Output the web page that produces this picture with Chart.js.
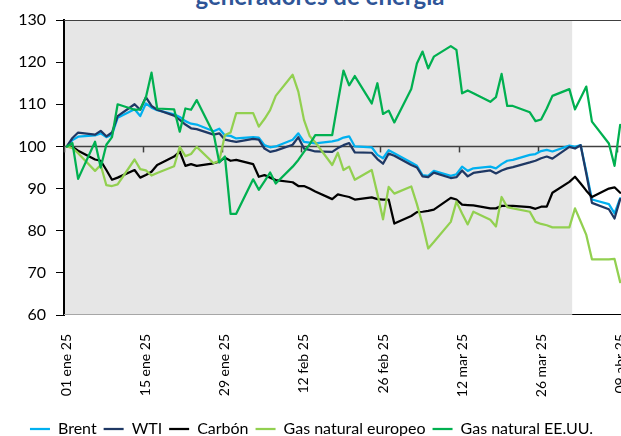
<!DOCTYPE html>
<html lang="es">
<head>
<meta charset="utf-8">
<title>Precios de la energía</title>
<script src="https://cdn.jsdelivr.net/npm/chart.js@4.4.1/dist/chart.umd.min.js"></script>
<style>
    html, body { margin: 0; padding: 0; background: #fff; overflow: hidden; }
    body { width: 621px; height: 436px; position: relative; }
    #titulo {
        position: absolute; left: 0; top: -16px; width: 640px;
        text-align: center; white-space: nowrap;
        font: bold 24px Lato, sans-serif; line-height: 24px; color: #2f5597;
    }
    #grafico { position: absolute; left: 0; top: 0; }
</style>
</head>
<body>
<div id="titulo">generadores de energía</div>
<canvas id="grafico" width="640" height="447"></canvas>
<script>
// Días hábiles (una fila por semana)
const fechas = [
    '2025-01-01', '2025-01-02', '2025-01-03',
    '2025-01-06', '2025-01-07', '2025-01-08', '2025-01-09', '2025-01-10',
    '2025-01-13', '2025-01-14', '2025-01-15', '2025-01-16', '2025-01-17',
    '2025-01-20', '2025-01-21', '2025-01-22', '2025-01-23', '2025-01-24',
    '2025-01-27', '2025-01-28', '2025-01-29', '2025-01-30', '2025-01-31',
    '2025-02-03', '2025-02-04', '2025-02-05', '2025-02-06', '2025-02-07',
    '2025-02-10', '2025-02-11', '2025-02-12', '2025-02-13', '2025-02-14',
    '2025-02-17', '2025-02-18', '2025-02-19', '2025-02-20', '2025-02-21',
    '2025-02-24', '2025-02-25', '2025-02-26', '2025-02-27', '2025-02-28',
    '2025-03-03', '2025-03-04', '2025-03-05', '2025-03-06', '2025-03-07',
    '2025-03-10', '2025-03-11', '2025-03-12', '2025-03-13', '2025-03-14',
    '2025-03-17', '2025-03-18', '2025-03-19', '2025-03-20', '2025-03-21',
    '2025-03-24', '2025-03-25', '2025-03-26', '2025-03-27', '2025-03-28',
    '2025-03-31', '2025-04-01', '2025-04-02', '2025-04-03', '2025-04-04',
    '2025-04-07', '2025-04-08', '2025-04-09'
];

// Índices base 100 = 01 ene 25
const brent = [
    100.0, 101.5, 102.3,
    102.6, 103.1, 102.2, 102.8, 106.8,
    108.8, 107.2, 110.2, 109.2, 108.6,
    107.6, 107.0, 106.0, 105.4, 105.2,
    103.6, 104.2, 102.6, 102.5, 101.9,
    102.2, 102.1, 100.3, 99.8, 100.0,
    101.6, 103.1, 101.1, 100.9, 100.7,
    101.2, 101.5, 102.1, 102.4, 100.0,
    99.8, 98.0, 97.2, 99.1, 98.4,
    96.2, 95.4, 93.2, 93.0, 94.2,
    93.0, 93.4, 95.2, 94.2, 94.8,
    95.2, 94.8, 95.8, 96.6, 96.8,
    98.0, 98.2, 98.9, 99.2, 98.8,
    100.2, 99.9, 100.3, 94.0, 87.4,
    86.3, 84.1, 87.7
];
const wti = [
    100.0, 102.0, 103.3,
    102.8, 103.7, 102.4, 103.3, 107.2,
    110.0, 108.7, 111.7, 109.6, 108.7,
    107.3, 106.3, 105.2, 104.3, 104.1,
    102.8, 103.1, 101.6, 101.3, 101.1,
    101.8, 101.6, 99.5, 98.7, 99.0,
    100.4, 102.2, 99.5, 99.2, 98.8,
    98.7, 99.6, 100.3, 100.8, 98.6,
    98.5, 97.0, 95.9, 98.3, 97.8,
    95.6, 95.0, 92.9, 92.7, 93.8,
    92.5, 92.7, 94.3, 92.9, 93.7,
    94.3, 93.6, 94.3, 94.8, 95.1,
    96.2, 96.6, 97.2, 97.6, 97.1,
    99.9, 99.5, 100.3, 93.5, 86.6,
    85.1, 82.9, 87.5
];
const carbon = [
    100.0, 99.9, 99.0,
    96.9, 96.6, 94.4, 92.1, 92.6,
    94.4, 92.6, 93.2, 94.0, 95.6,
    97.6, 98.8, 95.4, 95.8, 95.4,
    96.0, 96.4, 97.3, 96.6, 96.8,
    95.8, 92.8, 93.2, 92.6, 92.0,
    91.5, 90.6, 90.6, 90.0, 89.3,
    87.5, 88.6, 88.3, 88.0, 87.4,
    87.9, 87.5, 87.4, 87.4, 81.7,
    83.5, 84.4, 84.5, 84.7, 85.0,
    87.8, 87.4, 86.2, 86.1, 86.0,
    85.3, 85.3, 85.9, 85.9, 85.9,
    85.6, 85.2, 85.7, 85.7, 89.0,
    91.6, 92.8, 91.2, 89.5, 88.0,
    90.0, 90.3, 89.0
];
const gasEuropeo = [
    100.0, 99.6, 98.4,
    94.2, 95.6, 90.8, 90.6, 91.0,
    96.9, 94.6, 94.3, 93.1, 93.7,
    95.3, 99.9, 97.7, 98.2, 99.9,
    96.0, 96.6, 102.7, 103.3, 107.9,
    107.9, 104.7, 106.5, 108.6, 112.0,
    117.0, 113.0, 106.3, 102.5, 101.0,
    95.6, 98.5, 94.4, 95.2, 92.1,
    94.4, 88.8, 82.7, 90.4, 88.8,
    90.5, 86.3, 81.5, 75.8, 77.3,
    82.1, 86.9, 84.1, 81.5, 84.5,
    82.6, 81.0, 88.0, 85.6, 85.3,
    84.5, 82.1, 81.6, 81.3, 80.8,
    80.8, 85.3, 82.2, 79.0, 73.2,
    73.2, 73.3, 67.8
];
const gasEEUU = [
    100.0, 100.8, 92.3,
    101.1, 95.0, 100.4, 102.2, 110.0,
    108.7, 108.8, 111.6, 117.5, 109.0,
    108.8, 103.5, 109.0, 108.7, 111.0,
    103.0, 96.2, 97.6, 84.0, 84.0,
    92.2, 89.7, 91.7, 93.8, 91.2,
    95.2, 96.8, 98.7, 100.5, 102.7,
    102.7, 110.5, 118.0, 114.5, 116.7,
    110.2, 115.0, 107.7, 108.5, 105.7,
    113.6, 119.7, 122.5, 118.5, 121.3,
    123.8, 122.9, 112.6, 113.3, 112.6,
    110.6, 111.7, 117.2, 109.6, 109.6,
    108.1, 106.0, 106.4, 109.0, 112.0,
    113.6, 108.8, 111.5, 114.2, 105.9,
    100.7, 95.4, 105.1
];

const fechasEje = ['2025-01-01', '2025-01-15', '2025-01-29', '2025-02-12',
    '2025-02-26', '2025-03-12', '2025-03-26', '2025-04-09'];
const etiquetasEje = ['01 ene 25', '15 ene 25', '29 ene 25', '12 feb 25',
    '26 feb 25', '12 mar 25', '26 mar 25', '09 abr 25'];

// Periodo sombreado
const sombraDesde = '2025-01-01';
const sombraHasta = '2025-03-31';

const dia0 = Date.parse('2025-01-01');
function dia(f) {
    return Math.round((Date.parse(f) - dia0) / 86400000);
}
function puntos(serie) {
    return fechas.map((f, i) => ({ x: dia(f), y: serie[i] }));
}

const fuente = 'Lato, "Open Sans", sans-serif';

// Sombreado, marco y eje horizontal en 100
const marcoPlugin = {
    id: 'marco',
    beforeDatasetsDraw(chart) {
        const { ctx, chartArea: a, scales: { x, y } } = chart;
        const x0 = x.getPixelForValue(dia(sombraDesde) - 0.5);
        const x1 = x.getPixelForValue(dia(sombraHasta) + 0.5);
        const linea = (ax, ay, bx, by) => {
            ctx.beginPath();
            ctx.moveTo(ax, ay);
            ctx.lineTo(bx, by);
            ctx.stroke();
        };
        ctx.save();
        ctx.fillStyle = '#e6e6e6';
        ctx.fillRect(x0 + 1, a.top, x1 - x0 - 1, a.bottom - a.top);

        ctx.lineWidth = 1;
        ctx.strokeStyle = '#404040';
        linea(a.left, a.top + 0.5, a.right, a.top + 0.5);
        ctx.strokeStyle = '#a6a6a6';
        linea(a.left, a.bottom - 0.5, x1, a.bottom - 0.5);
        ctx.strokeStyle = '#000';
        linea(x1, a.bottom - 0.5, a.right, a.bottom - 0.5);

        const y100 = y.getPixelForValue(100);
        ctx.strokeStyle = '#404040';
        ctx.lineWidth = 1.5;
        linea(a.left, y100, a.right, y100);
        fechasEje.forEach(f => {
            const px = Math.round(x.getPixelForValue(dia(f) - 0.5)) + 0.5;
            linea(px, y100, px, y100 + 6);
        });
        ctx.restore();
    }
};

document.addEventListener('DOMContentLoaded', function() {
    const ctx = document.getElementById('grafico').getContext('2d');
    const serie = (label, data, color, order) => ({
        label: label,
        data: puntos(data),
        borderColor: color,
        backgroundColor: color,
        borderWidth: 2.25,
        pointRadius: 0,
        tension: 0,
        borderJoinStyle: 'round',
        borderCapStyle: 'round',
        order: order
    });

    new Chart(ctx, {
        type: 'line',
        data: {
            datasets: [
                serie('Brent', brent, '#00b0f0', 5),
                serie('WTI', wti, '#1f3864', 4),
                serie('Carbón', carbon, '#000000', 3),
                serie('Gas natural europeo', gasEuropeo, '#92d050', 2),
                serie('Gas natural EE.UU.', gasEEUU, '#00b050', 1)
            ]
        },
        options: {
            responsive: false,
            animation: false,
            layout: { padding: { top: 20, right: 17, left: 0, bottom: 0 } },
            plugins: {
                tooltip: { enabled: false },
                legend: {
                    position: 'bottom',
                    labels: {
                        usePointStyle: true,
                        pointStyle: 'line',
                        pointStyleWidth: 20,
                        padding: 7,
                        color: '#000',
                        font: { family: fuente, size: 16 },
                        sort: (a, b) => a.datasetIndex - b.datasetIndex
                    }
                }
            },
            scales: {
                x: {
                    type: 'linear',
                    min: -0.5,
                    max: 98.5,
                    afterBuildTicks: axis => {
                        axis.ticks = fechasEje.map(f => ({ value: dia(f) }));
                    },
                    afterFit: axis => {
                        axis.height = 99;
                        axis.paddingLeft = 0;
                        axis.paddingRight = 0;
                    },
                    grid: { display: false, drawTicks: false },
                    border: { display: false },
                    ticks: {
                        autoSkip: false,
                        minRotation: 90,
                        maxRotation: 90,
                        padding: 19,
                        color: '#000',
                        font: { family: fuente, size: 14 },
                        callback: function(value) {
                            const i = fechasEje.findIndex(f => dia(f) === value);
                            return i >= 0 ? etiquetasEje[i] : '';
                        }
                    }
                },
                y: {
                    min: 60,
                    max: 130,
                    afterFit: axis => { axis.width = 64; },
                    grid: { drawOnChartArea: false, tickLength: 8, color: '#000' },
                    border: { color: '#000', width: 2 },
                    ticks: {
                        stepSize: 10,
                        padding: 10,
                        color: '#000',
                        font: { family: fuente, size: 16 }
                    }
                }
            }
        },
        plugins: [marcoPlugin]
    });
});
</script>
</body>
</html>
